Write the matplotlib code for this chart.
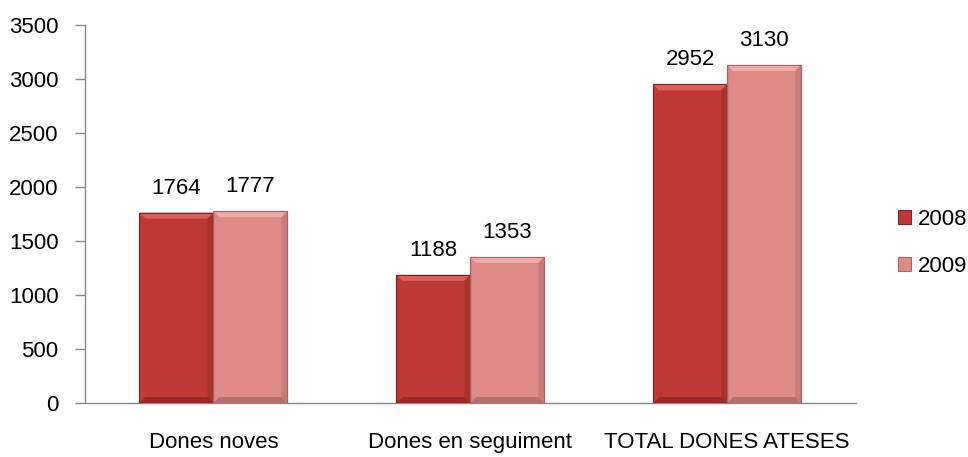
import matplotlib
matplotlib.use("Agg")
import matplotlib.pyplot as plt
import numpy as np
from matplotlib.patches import Polygon

plt.rcParams['font.family'] = ['Liberation Sans', 'DejaVu Sans']

categories = ["Dones noves", "Dones en seguiment", "TOTAL DONES ATESES"]
series_names = ["2008", "2009"]
values_2008 = [1764, 1188, 2952]
values_2009 = [1777, 1353, 3130]
yticks = [0, 500, 1000, 1500, 2000, 2500, 3000, 3500]

colors = ["#BD3936", "#DD8A89"]
edge_colors = ["#7E2422", "#A86464"]
light_colors = ["#D9605C", "#EDAAA9"]
dark_colors = ["#962C2A", "#B56E6D"]

FS = 16

fig = plt.figure(figsize=(9.68, 4.57), dpi=100)
ax = fig.add_axes([0.0878, 0.118, 0.796, 0.827])

x = np.arange(len(categories))
w = 0.288
all_bars = []
for i, (vals, name) in enumerate(zip([values_2008, values_2009], series_names)):
    offs = (i - 0.5) * w
    bars = ax.bar(x + offs, vals, width=w, color=colors[i], edgecolor=edge_colors[i],
                  linewidth=0.8, label=name, zorder=3)
    all_bars.append((bars, i))
    for b, v in zip(bars, vals):
        ax.annotate(str(v), (b.get_x() + b.get_width() / 2, v), xytext=(0, 10),
                    textcoords="offset points", ha="center", va="bottom", fontsize=FS)

# bevel shading derived from bar geometry
ax.set_xlim(-0.5, 2.5)
ax.set_ylim(0, 3500)
fig.canvas.draw()
trans = ax.transData
inv = trans.inverted()
for bars, i in all_bars:
    for b in bars:
        x0, x1 = b.get_x(), b.get_x() + b.get_width()
        y1 = b.get_height()
        p0 = trans.transform((x0, 0))
        p1 = trans.transform((x1, y1))
        d = 6  # bevel px
        def P(px, py):
            return inv.transform((px, py))
        top = [P(p0[0], p1[1]), P(p1[0], p1[1]), P(p1[0] - d, p1[1] - d), P(p0[0] + d, p1[1] - d)]
        right = [P(p1[0], p0[1]), P(p1[0], p1[1]), P(p1[0] - d, p1[1] - d), P(p1[0] - d, p0[1] + d)]
        bottom = [P(p0[0], p0[1]), P(p1[0], p0[1]), P(p1[0] - d, p0[1] + d), P(p0[0] + d, p0[1] + d)]
        ax.add_patch(Polygon(top, closed=True, color=light_colors[i], lw=0, zorder=4))
        ax.add_patch(Polygon(right, closed=True, color=dark_colors[i], lw=0, zorder=4, alpha=0.5))
        ax.add_patch(Polygon(bottom, closed=True, color=dark_colors[i], lw=0, zorder=4))
        ax.add_patch(Polygon([P(p0[0], p0[1]), P(p1[0], p0[1]), P(p1[0], p1[1]), P(p0[0], p1[1])],
                             closed=True, fill=False, edgecolor=edge_colors[i], lw=0.8, zorder=5))

ax.set_yticks(yticks)
ax.set_xticks(x)
ax.set_xticklabels(categories)
ax.tick_params(axis='y', labelsize=FS, length=7, color="#888888", width=1, pad=12)
ax.tick_params(axis='x', labelsize=FS, length=0, pad=21)
for s in ["top", "right"]:
    ax.spines[s].set_visible(False)
for s in ["left", "bottom"]:
    ax.spines[s].set_color("#888888")
    ax.spines[s].set_linewidth(1)

leg = ax.legend(loc="center left", bbox_to_anchor=(1.043, 0.423), frameon=False, fontsize=FS,
                handlelength=0.6, handleheight=0.6, handletextpad=0.3, labelspacing=1.17,
                borderaxespad=0.0)

fig.savefig("out.png", dpi=100)
